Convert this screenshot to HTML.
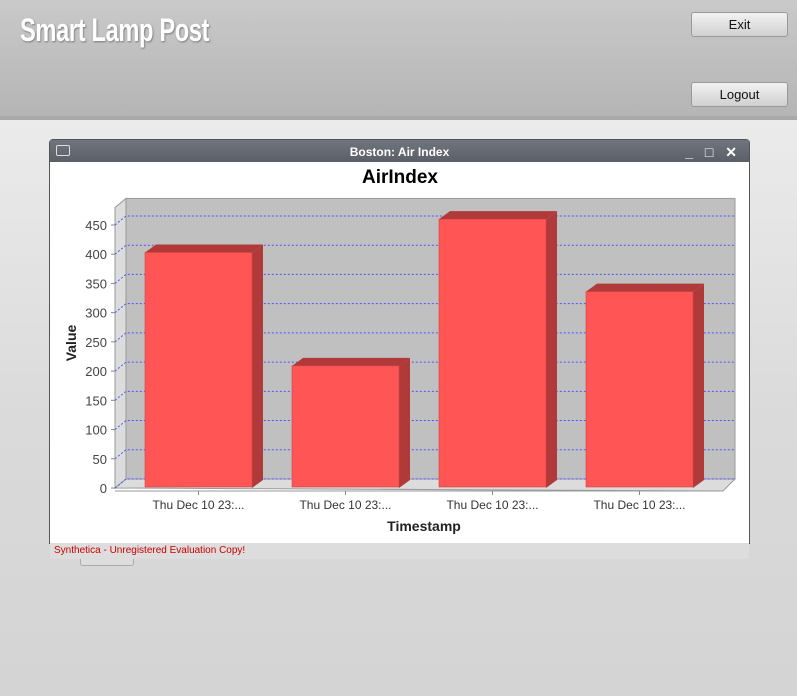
<!DOCTYPE html>
<html><head><meta charset="utf-8"><style>
body{margin:0;width:797px;height:696px;overflow:hidden;font-family:"Liberation Sans",sans-serif;background:linear-gradient(#f2f2f2,#dadada 60%,#d4d4d4);position:relative}
.hdr{position:absolute;left:0;top:0;width:797px;height:116px;background:linear-gradient(#c9c9c9,#b5b5b5);border-bottom:4px solid #a9a9a9}
.title{position:absolute;left:20px;top:12px;color:#fff;font:bold 32px "Liberation Sans Narrow","Liberation Sans",sans-serif;letter-spacing:-0.5px;text-shadow:1px 1px 2px #777;transform:scaleX(0.74);transform-origin:0 0}
.btn{position:absolute;left:691px;width:95px;height:23px;border:1px solid #999;border-radius:3px;background:linear-gradient(#f2f2f2,#d0d0d0);font-size:13px;text-align:center;line-height:23px;color:#111}
.win{position:absolute;left:49px;top:139px;width:699px;height:403px;border:1px solid #555;border-radius:4px 4px 0 0;background:#fff}
.tb{height:22px;background:linear-gradient(#70757e,#5a5f68);color:#fff;font-size:12px;font-weight:bold;text-align:center;line-height:24px}
.eval{position:absolute;left:50px;top:543px;width:699px;height:16px;background:#ddd;color:#c00;font-size:10px;line-height:16px;padding-left:4px;box-sizing:border-box}
</style></head><body>
<div class="hdr"></div>
<div class="title">Smart Lamp Post</div>
<div class="btn" style="top:12px">Exit</div>
<div class="btn" style="top:82px">Logout</div>
<div style="position:absolute;left:80px;top:552px;width:52px;height:12px;border:1px solid #aaa;border-radius:3px;background:#ddd"></div>
<div class="win">
<div class="tb">Boston: Air Index
<span style="position:absolute;left:6px;top:5px;width:12px;height:9px;border:1px solid #ddd;border-radius:2px"></span>
<span style="position:absolute;right:8px;top:0;font-size:14px;letter-spacing:4px">_ □ ✕</span></div>
</div>
<svg id="chart" width="797" height="696" style="position:absolute;left:0;top:0"></svg>
<div class="eval">Synthetica - Unregistered Evaluation Copy!</div>
<script>
const categories=["Thu Dec 10 23:...","Thu Dec 10 23:...","Thu Dec 10 23:...","Thu Dec 10 23:..."];
const values=[403,209,460,336];
const yTicks=[0,50,100,150,200,250,300,350,400,450];
const svg=document.getElementById('chart');const NS='http://www.w3.org/2000/svg';
function el(t,a,p){const e=document.createElementNS(NS,t);for(const k in a)e.setAttribute(k,a[k]);(p||svg).appendChild(e);return e;}
const y0=488,k=0.5845,DX=11,DY=-9,x0=115,x1=723;
const Y=v=>y0-v*k;
const bandL=128,bandW=147;
const X=i=>bandL+i*bandW+17;
let t=el('text',{x:400,y:183,'text-anchor':'middle','font-size':19,'font-weight':'bold',fill:'#000'});
t.textContent='AirIndex';
let p=el('polygon',{points:`${x0},${Y(480)} ${x0+DX},${Y(480)+DY} ${x0+DX},${y0+DY} ${x0},${y0}`,fill:'#dcdcdc',stroke:'#999'});

p=el('rect',{x:x0+DX,y:Y(480)+DY,width:x1+DX-x0-DX+1,height:y0-Y(480),fill:'#c0c0c0',stroke:'#999'});

p=el('polygon',{points:`${x0},${y0} ${x0+DX},${y0+DY} ${x1+DX+1},${y0+DY} ${x1},${y0+3}`,fill:'#dcdcdc',stroke:'#999'});

el('line',{x1:x0,y1:y0+3,x2:x1,y2:y0+3,stroke:'#999'});
el('line',{x1:x0,y1:Y(480),x2:x0,y2:y0+1,stroke:'#999'});
yTicks.forEach((v,i)=>{const y=Y(v);
 let g=el('polyline',{points:`${x0},${y} ${x0+DX},${y+DY} ${x1+DX+1},${y+DY}`,fill:'none',stroke:'#5050ff','stroke-dasharray':'2,2','stroke-width':1});
 
 el('line',{x1:x0-4,y1:y,x2:x0,y2:y,stroke:'#888'});
 let l=el('text',{x:x0-8,y:y+5,'text-anchor':'end','font-size':13,fill:'#444'});
 l.textContent=v;});
values.forEach((v,i)=>{const x=X(i),w=107,y=Y(v);
 const g=el('g',{});
 el('polygon',{points:`${x},${y} ${x+DX},${y-8} ${x+w+DX},${y-8} ${x+w},${y}`,fill:'#b03a3a'},g);
 el('polygon',{points:`${x+w},${y} ${x+w+DX},${y-8} ${x+w+DX},${y0-8} ${x+w},${y0}`,fill:'#b03a3a'},g);
 el('rect',{x:x,y:y,width:w,height:y0-y-1,fill:'#ff5555',stroke:'#d04444','stroke-width':0.6},g);
 const cx=x+w/2;el('line',{x1:cx,y1:y0+3,x2:cx,y2:y0+7,stroke:'#888'});
 let l=el('text',{x:cx,y:509,'text-anchor':'middle','font-size':12,fill:'#333'});
 l.textContent=categories[i];});
t=el('text',{x:424,y:531,'text-anchor':'middle','font-size':14,'font-weight':'bold',fill:'#222'});
t.textContent='Timestamp';
t=el('text',{x:76,y:343,'text-anchor':'middle','font-size':14,'font-weight':'bold',fill:'#222',transform:'rotate(-90 76 343)'});
t.textContent='Value';
</script>
</body></html>
